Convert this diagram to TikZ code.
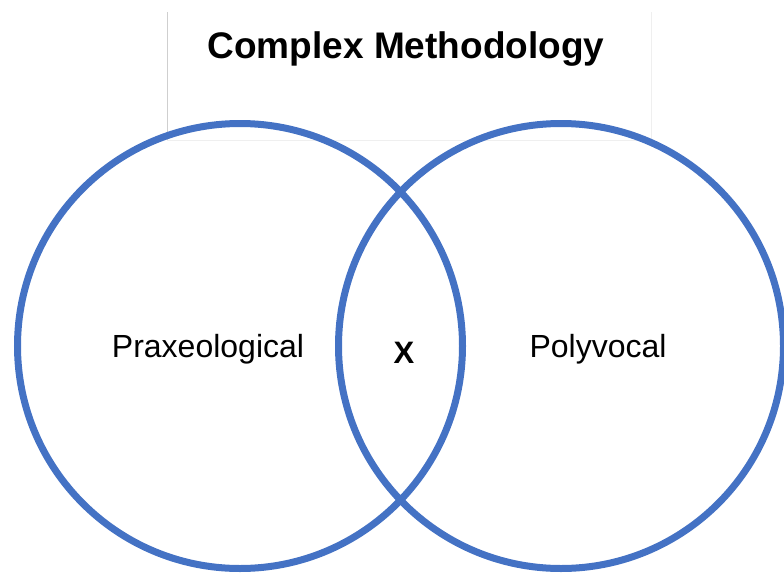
\documentclass[tikz,border=0pt]{standalone}
\usepackage{fontspec}
\setmainfont{Liberation Sans}
\definecolor{ringblue}{HTML}{4472C4}
\definecolor{frameleft}{HTML}{CFCFCF}
\definecolor{frameedge}{HTML}{EFEFEF}
\begin{document}
\begin{tikzpicture}[x=1pt,y=-1pt,
  ring/.style={circle,draw=ringblue,line width=7pt,minimum size=445pt,inner sep=0pt},
  label/.style={anchor=base,inner sep=0pt,font=\fontsize{32}{38}\selectfont},
  heading/.style={anchor=base,inner sep=0pt,font=\bfseries\fontsize{37}{44}\selectfont}]
  \useasboundingbox (0,0) rectangle (784,573);
  % title frame: open at the top
  \coordinate (fTL) at (167,12);
  \coordinate (fTR) at (651,12);
  \coordinate (fBR) at (651,140);
  \coordinate (fBL) at (167,140);
  \draw[frameedge,line width=1pt] (fTR) -- (fBR) -- (fBL);
  \draw[frameleft,line width=1pt] (fTL) -- (fBL);
  \node[heading] (title) at (406,58) {Complex Methodology};
  % the two sets
  \node[ring] (left) at (240,346) {};
  \node[ring] (right) at (561,346) {};
  \node[label] (prax) at (208,357) {Praxeological};
  \node[label] (poly) at (598,357) {Polyvocal};
  \node[label,font=\bfseries\fontsize{31}{37}\selectfont] (both) at (404,363) {X};
\end{tikzpicture}
\end{document}
